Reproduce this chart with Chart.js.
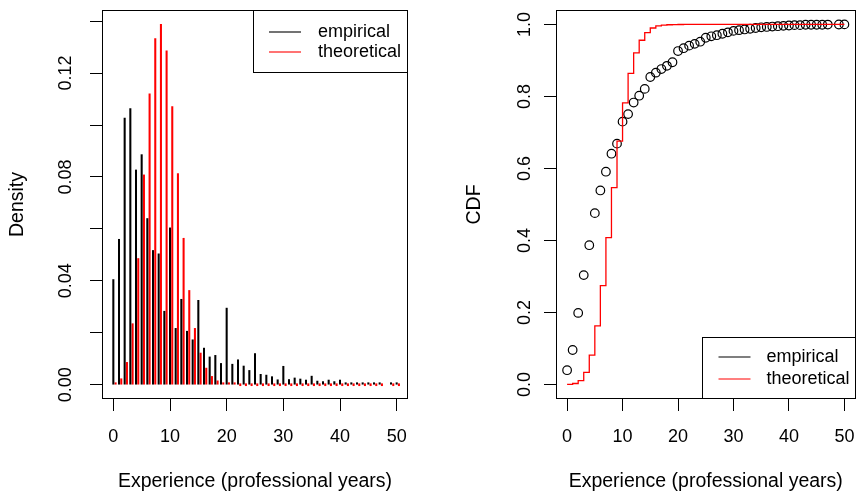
<!DOCTYPE html>
<html><head><meta charset="utf-8">
<script src="https://cdn.jsdelivr.net/npm/chart.js@4/dist/chart.umd.min.js"></script>
<style>
html,body{margin:0;padding:0;background:#fff;overflow:hidden}
#wrap{position:relative;width:861px;height:498px;background:#fff}
canvas{position:absolute;top:0}
</style></head><body>
<div id="wrap">
<canvas id="c1" width="430" height="498" style="left:0"></canvas>
<canvas id="c2" width="431" height="498" style="left:430px"></canvas>
</div>
<script>
// ---------------- data ----------------
const categories = [0,1,2,3,4,5,6,7,8,9,10,11,12,13,14,15,16,17,18,19,20,21,22,23,24,25,26,27,28,29,30,31,32,33,34,35,36,37,38,39,40,41,42,43,44,45,46,47,49,50];
const empiricalDensity = [
0.0405,0.0560,0.1027,0.1063,0.0827,0.0886,0.0640,0.0517,0.0504,0.0283,
0.0604,0.0217,0.0329,0.0206,0.0173,0.0325,0.0141,0.0107,0.0113,0.0082,
0.0295,0.0079,0.0096,0.0072,0.0055,0.0120,0.0040,0.0037,0.0031,0.0019,
0.0071,0.0020,0.0026,0.0022,0.0018,0.0033,0.0014,0.0012,0.0018,0.0012,
0.0018,0.0006,0.0005,0.0005,0.0004,0.0004,0.0004,0.0004,
0.0004,0.0004];
const theoreticalDensity = [
0.0005,0.0023,0.0086,0.0235,0.0486,0.0808,0.1120,0.1333,0.1388,0.1286,
0.1071,0.0813,0.0564,0.0363,0.0217,0.0122,0.0064,0.0032,0.0015,0.0007,
0.0003,0.0001,0,0,0,0,0,0,0,0,
0,0,0,0,0,0,0,0,0,0,
0,0,0,0,0,0,0,0,
0,0];
const empiricalCdf = [
0.040,0.096,0.199,0.304,0.387,0.476,0.539,0.591,0.641,0.669,
0.730,0.751,0.783,0.802,0.821,0.854,0.866,0.876,0.885,0.895,
0.926,0.934,0.941,0.946,0.952,0.963,0.967,0.970,0.974,0.978,
0.982,0.984,0.986,0.988,0.990,0.992,0.993,0.994,0.995,0.996,
0.997,0.998,0.998,0.999,0.999,0.999,0.999,0.9995,
0.9998,1.000];
const theoreticalCdf = [
0.0005,0.003,0.011,0.034,0.082,0.163,0.275,0.408,0.547,0.676,
0.782,0.864,0.921,0.956,0.977,0.990,0.996,0.998,0.999,0.9995,
0.9998,1,1,1,1,1,1,1,1,1,
1,1,1,1,1,1,1,1,1,1,
1,1,1,1,1,1,1,1,
1,1];
const xTicks = [0,10,20,30,40,50];
const xTickLabels = ['0','10','20','30','40','50'];
const densityTicks = [0,0.02,0.04,0.06,0.08,0.10,0.12,0.14];
const densityTickLabels = ['0.00','','0.04','','0.08','','0.12',''];
const cdfTicks = [0,0.2,0.4,0.6,0.8,1.0];
const cdfTickLabels = ['0.0','0.2','0.4','0.6','0.8','1.0'];
const legendLabels = ['empirical','theoretical'];
const xTitle = 'Experience (professional years)';
const densityTitle = 'Density';
const cdfTitle = 'CDF';

// ---------------- styling ----------------
const FONT = '"Liberation Sans", Arial, Helvetica, sans-serif';
const TICK_PX = 18, TITLE_PX = 19.5;
const RED = '#ff0000', BLACK = '#000000';
const RED_OFFSET = 0.4;

function mkPlugin(o) {
  return {
    id: 'deco',
    afterDraw(chart) {
      const ctx = chart.ctx, a = chart.chartArea;
      const xs = chart.scales.x, ys = chart.scales.y;
      ctx.save();
      ctx.strokeStyle = BLACK; ctx.lineWidth = 1;
      ctx.strokeRect(Math.round(a.left) + 0.5, Math.round(a.top) + 0.5,
                     Math.round(a.right - a.left) - 1, Math.round(a.bottom - a.top) - 1);
      ctx.fillStyle = BLACK;
      ctx.font = TICK_PX + 'px ' + FONT;
      ctx.textAlign = 'center'; ctx.textBaseline = 'middle';
      xTicks.forEach((v, i) => ctx.fillText(xTickLabels[i], xs.getPixelForValue(v), o.xLabelY));
      o.yTicks.forEach((v, i) => {
        if (!o.yLabels[i]) return;
        ctx.save();
        ctx.translate(o.yLabelX, ys.getPixelForValue(v));
        ctx.rotate(-Math.PI / 2);
        ctx.fillText(o.yLabels[i], 0, 0);
        ctx.restore();
      });
      ctx.font = TITLE_PX + 'px ' + FONT;
      ctx.fillText(xTitle, (a.left + a.right) / 2, o.xTitleY);
      ctx.save();
      ctx.translate(o.yTitleX, (a.top + a.bottom) / 2);
      ctx.rotate(-Math.PI / 2);
      ctx.fillText(o.yTitle, 0, 0);
      ctx.restore();
      const L = o.legend;
      const lx = a.right - L.w;
      const ly = L.anchor === 'top' ? a.top : a.bottom - L.h;
      ctx.strokeStyle = BLACK; ctx.lineWidth = 1;
      ctx.fillStyle = '#ffffff';
      ctx.fillRect(Math.round(lx) + 0.5, Math.round(ly) + 0.5, Math.round(L.w) - 1, Math.round(L.h) - 1);
      ctx.strokeRect(Math.round(lx) + 0.5, Math.round(ly) + 0.5, Math.round(L.w) - 1, Math.round(L.h) - 1);
      ctx.font = TICK_PX + 'px ' + FONT;
      ctx.textAlign = 'left';
      [BLACK, RED].forEach((c, i) => {
        const yy = ly + L.rows[i];
        ctx.strokeStyle = c; ctx.lineWidth = 1.1;
        ctx.beginPath(); ctx.moveTo(lx + L.l1, yy); ctx.lineTo(lx + L.l2, yy); ctx.stroke();
        ctx.fillStyle = BLACK;
        ctx.fillText(legendLabels[i], lx + L.tx, yy);
      });
      ctx.restore();
    }
  };
}

function axisX() {
  return {
    type: 'linear', min: -2, max: 52, offset: false,
    afterBuildTicks: s => { s.ticks = xTicks.map(v => ({ value: v })); },
    afterFit: s => { s.height = 99; },
    ticks: { display: false },
    grid: { offset: false, drawOnChartArea: false, drawTicks: true, tickLength: 12, color: BLACK, tickColor: BLACK, lineWidth: 1 },
    border: { display: false }
  };
}
function axisY(min, max, ticks, width) {
  return {
    type: 'linear', min: min, max: max,
    afterBuildTicks: s => { s.ticks = ticks.map(v => ({ value: v })); },
    afterFit: s => { s.width = width; },
    ticks: { display: false },
    grid: { drawOnChartArea: false, drawTicks: true, tickLength: 12, color: BLACK, tickColor: BLACK, lineWidth: 1 },
    border: { display: false }
  };
}

const common = {
  responsive: false, animation: false, devicePixelRatio: 1,
  plugins: { legend: { display: false }, tooltip: { enabled: false } },
  events: []
};

// ---------------- left: density ----------------
new Chart(document.getElementById('c1'), {
  type: 'bar',
  data: {
    datasets: [
      { data: categories.map((c, i) => ({ x: c, y: empiricalDensity[i] })),
        backgroundColor: BLACK, borderWidth: 0, barThickness: 1.4, minBarLength: 2, grouped: false },
      { data: categories.map((c, i) => ({ x: c + RED_OFFSET, y: theoreticalDensity[i] })),
        backgroundColor: RED, borderWidth: 0, barThickness: 1.4, minBarLength: 2, grouped: false }
    ]
  },
  options: Object.assign({}, common, {
    layout: { padding: { left: 0, top: 10, right: 22, bottom: 0 } },
    scales: { x: axisX(), y: axisY(-0.0055, 0.1443, densityTicks, 102) }
  }),
  plugins: [mkPlugin({
    xLabelY: 437, xTitleY: 482, yLabelX: 66, yTitleX: 18, yTitle: densityTitle,
    yTicks: densityTicks, yLabels: densityTickLabels,
    legend: { anchor: 'top', w: 155, h: 63, rows: [22, 42], l1: 16, l2: 48, tx: 65 }
  })]
});

// ---------------- right: CDF ----------------
new Chart(document.getElementById('c2'), {
  type: 'scatter',
  data: {
    datasets: [
      { type: 'line', order: 0,
        data: categories.map((c, i) => ({ x: c, y: theoreticalCdf[i] })),
        borderColor: RED, borderWidth: 1.3, pointRadius: 0, fill: false, stepped: 'before', tension: 0 },
      { type: 'scatter', order: 1,
        data: categories.map((c, i) => ({ x: c, y: empiricalCdf[i] })),
        pointStyle: 'circle', pointRadius: 4.3, borderColor: BLACK, backgroundColor: 'rgba(0,0,0,0)', pointBorderWidth: 1.2, borderWidth: 1.2 }
    ]
  },
  options: Object.assign({}, common, {
    layout: { padding: { left: 0, top: 10, right: 2, bottom: 0 } },
    scales: { x: axisX(), y: axisY(-0.04, 1.04, cdfTicks, 126) }
  }),
  plugins: [mkPlugin({
    xLabelY: 437, xTitleY: 482, yLabelX: 95, yTitleX: 45, yTitle: cdfTitle,
    yTicks: cdfTicks, yLabels: cdfTickLabels,
    legend: { anchor: 'bottom', w: 154, h: 62, rows: [20, 42], l1: 17, l2: 49, tx: 65 }
  })]
});
</script>
</body></html>
